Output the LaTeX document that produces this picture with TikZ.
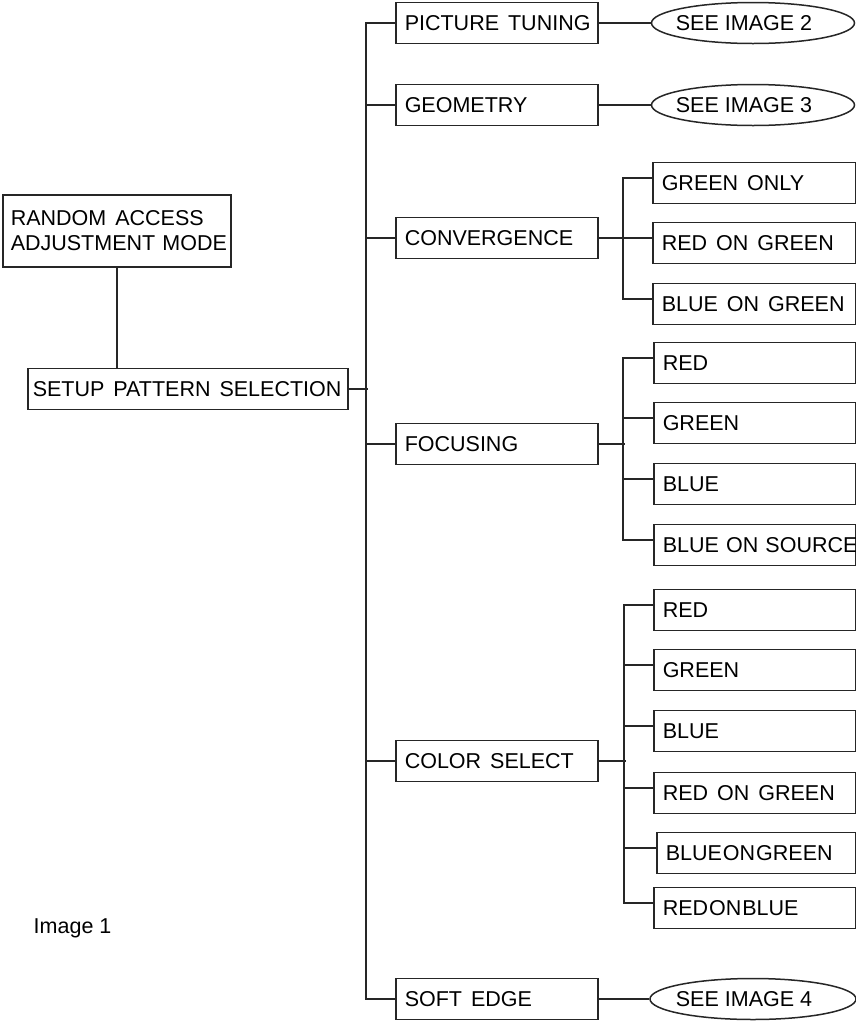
\documentclass[tikz,border=0pt]{standalone}
\usepackage{fontspec}
\setmainfont{Liberation Sans}
\usetikzlibrary{positioning,shapes.geometric}

\begin{document}
\begin{tikzpicture}[x=1pt, y=-1pt, line width=1.5pt, draw=black!85,
    every node/.style={font=\fontsize{21.5}{25}\selectfont},
    wide/.style={execute at begin node={\spaceskip=9pt\relax}},
    tight/.style={execute at begin node={\spaceskip=1pt\relax}},
    menu/.style={draw, anchor=west, minimum height=41pt, inner xsep=9pt,
        text width=#1, align=left},
    menu/.default=184pt,
    see/.style={draw, ellipse, minimum width=203pt, minimum height=41pt, inner sep=0pt,
        execute at begin node={\hspace*{-18pt}}}]
    \useasboundingbox (0,0) rectangle (856,1021);

    % entry point
    \node[menu=212pt, inner xsep=8pt, minimum height=72pt] (RA) at (2,231)
        {RANDOM\hspace{9pt}ACCESS\\ \mbox{ADJUSTMENT MODE}\par\vspace{7pt}};
    \node[menu=310pt, wide, inner xsep=5pt] (SP) at (27,389) {\mbox{SETUP PATTERN SELECTION}};
    \draw (RA.south) -- (RA.south |- SP.north);

    % first level
    \node[menu, wide] (PT) at (395,23)  {\mbox{PICTURE TUNING}};
    \node[menu, wide] (GE) at (395,105) {GEOMETRY};
    \node[menu, wide] (CV) at (395,238) {CONVERGENCE};
    \node[menu, wide] (FO) at (395,444) {FOCUSING};
    \node[menu, wide] (CS) at (395,761) {COLOR SELECT};
    \node[menu, wide] (SE) at (395,999) {SOFT EDGE};

    \draw (SP.east) -- ++(19,0);
    \draw (PT.west) -- ++(-29,0) |- (SE.west);
    \foreach \n in {GE,CV,FO,CS}
        \draw (\n.west) -- ++(-29,0);

    % references to the other images
    \node[see] (S2) at (753,23)  {SEE IMAGE 2};
    \node[see] (S3) at (753,105) {SEE IMAGE 3};
    \node[see, minimum width=206pt] (S4) at (753,999) {SEE IMAGE 4};
    \draw (PT.east) -- (S2.west);
    \draw (GE.east) -- (S3.west);
    \draw (SE.east) -- (S4.west);

    % convergence patterns
    \node[menu=185pt, wide] (GO)  at (652,183) {GREEN ONLY};
    \node[menu=185pt, wide] (RG)  at (652,243) {RED ON GREEN};
    \node[menu=185pt, wide] (BG)  at (652,304) {\mbox{BLUE ON GREEN}};
    \draw (CV.east) -- ++(26,0);
    \draw ([yshift=5pt]GO.west) -- ++(-29,0) |- ([yshift=5pt]BG.west);
    \draw ([yshift=5pt]RG.west) -- ++(-29,0);

    % focusing patterns
    \node[menu=184pt, wide] (R1) at (653,363) {RED};
    \node[menu=184pt, wide] (G1) at (653,423) {GREEN};
    \node[menu=184pt, wide] (B1) at (653,484) {BLUE};
    \node[menu=184pt] (BS) at (653,545) {\mbox{BLUE ON SOURCE}};
    \draw (FO.east) -- ++(26,0);
    \draw ([yshift=5pt]R1.west) -- ++(-30,0) |- ([yshift=5pt]BS.west);
    \foreach \n in {G1,B1}
        \draw ([yshift=5pt]\n.west) -- ++(-30,0);

    % color select patterns
    \node[menu=184pt, wide]  (R2)  at (653,610) {RED};
    \node[menu=184pt, wide]  (G2)  at (653,670) {GREEN};
    \node[menu=184pt, wide]  (B2)  at (653,731) {BLUE};
    \node[menu=184pt, wide]  (RG2) at (653,793) {RED ON GREEN};
    \node[menu=181pt, tight] (BG2) at (656,853) {BLUE ON GREEN};
    \node[menu=184pt, tight] (RB2) at (653,908) {RED ON BLUE};
    \draw (CS.east) -- ++(27,0);
    \draw ([yshift=5pt]R2.west) -- ++(-29,0) |- ([yshift=5pt]RB2.west);
    \foreach \n in {G2,B2,RG2}
        \draw ([yshift=5pt]\n.west) -- ++(-29,0);
    \draw ([yshift=5pt]BG2.west) -- ++(-32,0);

    \node[anchor=west, inner sep=2pt] (cap) at (31,928) {Image 1};
\end{tikzpicture}
\end{document}
